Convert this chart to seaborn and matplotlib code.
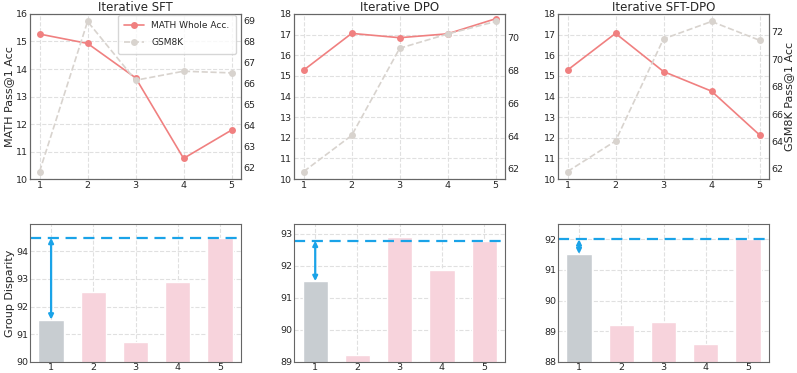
import matplotlib
matplotlib.use("Agg")
import matplotlib.pyplot as plt
from matplotlib.ticker import MultipleLocator
import seaborn as sns
import numpy as np
import pandas as pd

titles = ["Iterative SFT", "Iterative DPO", "Iterative SFT-DPO"]
iters = [1, 2, 3, 4, 5]
math_acc = [
    [15.27, 14.93, 13.68, 10.75, 11.78],
    [15.28, 17.06, 16.85, 17.04, 17.77],
    [15.28, 17.06, 15.21, 14.26, 12.14],
]
gsm_acc = [
    [61.79, 68.94, 66.14, 66.57, 66.49],
    [61.84, 64.04, 69.35, 70.22, 70.98],
    [61.80, 64.03, 71.49, 72.76, 71.39],
]
disparity = [
    [91.53, 92.54, 90.72, 92.89, 94.48],
    [91.52, 89.22, 92.88, 91.88, 92.78],
    [91.52, 89.20, 89.31, 88.59, 92.00],
]
math_ylims = [(10, 16), (10, 18), (10, 18)]
gsm_steps = [1, 2, 2]
disp_ylims = [(90, 94.98), (89, 93.3), (88, 92.5)]

sns.set_style("whitegrid", {"grid.linestyle": "--", "axes.edgecolor": "#666666"})
plt.rcParams["font.family"] = ["DejaVu Sans"]

fig = plt.figure(figsize=(7.97, 3.73), dpi=100)
lefts = [0.0376, 0.369, 0.700]
w = 0.265
math_color = "#f08080"
gsm_color = "#d8d3ce"
blue = "#1aa3e8"
tick_fs = 6.8
label_fs = 8

for i in range(3):
    ax = fig.add_axes([lefts[i], 0.52, w, 0.4425])
    df = pd.DataFrame({"it": iters, "math": math_acc[i], "gsm": gsm_acc[i]})
    sns.lineplot(data=df, x="it", y="math", ax=ax, color=math_color, marker="o",
                 markersize=5, markeredgewidth=0, linewidth=1.2, label="MATH Whole Acc.")
    ax.set_ylim(*math_ylims[i])
    ax.yaxis.set_major_locator(MultipleLocator(1))
    ax.set_xticks(iters)
    ax.set_xlabel("")
    ax.set_ylabel("MATH Pass@1 Acc" if i == 0 else "", fontsize=label_fs, labelpad=1)
    ax.set_title(titles[i], fontsize=8.5, pad=2)
    ax.tick_params(labelsize=tick_fs, pad=1.5, length=0)
    ax.grid(True, color="#e0e0e0", linestyle="--", linewidth=0.8)
    ax2 = ax.twinx()
    sns.lineplot(data=df, x="it", y="gsm", ax=ax2, color=gsm_color, marker="o",
                 markersize=5, markeredgewidth=0, linewidth=1.2, linestyle="--",
                 label="GSM8K")
    ax2.yaxis.set_major_locator(MultipleLocator(gsm_steps[i]))
    ax2.grid(False)
    ax2.set_ylabel("GSM8K Pass@1 Acc" if i == 2 else "", fontsize=label_fs, labelpad=1)
    ax2.tick_params(labelsize=tick_fs, pad=1.5, length=0)
    for a in (ax, ax2):
        for s in a.spines.values():
            s.set_color("#666666")
            s.set_linewidth(0.8)
    h1, l1 = ax.get_legend_handles_labels()
    h2, l2 = ax2.get_legend_handles_labels()
    ax.get_legend().remove()
    ax2.get_legend().remove()
    if i == 0:
        ax2.legend(h1 + h2, l1 + l2, loc="upper right", fontsize=6.5, frameon=True,
                   borderpad=0.7, handlelength=2.2, labelspacing=0.9,
                   bbox_to_anchor=(0.98, 1.0), borderaxespad=0.1)

    axb = fig.add_axes([lefts[i], 0.0295, w, 0.37])
    dfb = pd.DataFrame({"it": [str(v) for v in iters], "val": disparity[i]})
    palette = ["#c8cdd1"] + ["#f7d3dc"] * 4
    sns.barplot(data=dfb, x="it", y="val", hue="it", palette=palette, legend=False,
                ax=axb, width=0.6, saturation=1)
    axb.set_ylim(*disp_ylims[i])
    axb.yaxis.set_major_locator(MultipleLocator(1))
    axb.set_xlabel("")
    axb.set_ylabel("Group Disparity" if i == 0 else "", fontsize=label_fs, labelpad=1)
    axb.tick_params(labelsize=tick_fs, pad=1, length=0)
    axb.grid(True, color="#e0e0e0", linestyle="--", linewidth=0.8)
    axb.set_axisbelow(True)
    for s in axb.spines.values():
        s.set_color("#666666")
        s.set_linewidth(0.8)
    last = disparity[i][-1]
    axb.axhline(last, color=blue, linestyle="--", linewidth=1.6, dashes=(5, 3))
    axb.annotate("", xy=(0, last), xytext=(0, disparity[i][0]),
                 arrowprops=dict(arrowstyle="<|-|>", color=blue, lw=1.6,
                                 mutation_scale=7, shrinkA=0, shrinkB=0))

fig.savefig("out.png", dpi=100)
